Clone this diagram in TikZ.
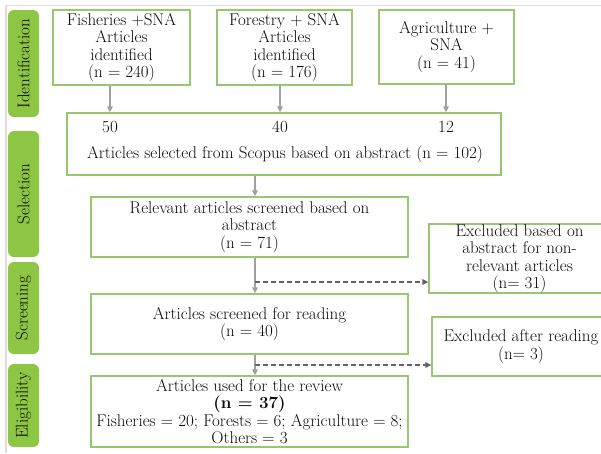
\documentclass[tikz,border=0pt]{standalone}
\usetikzlibrary{arrows.meta,calc}
\definecolor{sidegreen}{RGB}{141,198,68}
\definecolor{boxgreen}{RGB}{150,200,112}
\definecolor{arrgrey}{RGB}{160,160,160}
\definecolor{dgrey}{RGB}{100,100,100}
\definecolor{framegrey}{RGB}{222,222,215}
\definecolor{txt}{RGB}{10,10,10}
\begin{document}
\begin{tikzpicture}[x=1pt,y=-1pt,
  box/.style={draw=boxgreen, line width=1.3pt, align=center, inner sep=0pt,
    font=\fontsize{17}{17.5}\selectfont, text=txt},
  lbl/.style={inner sep=0pt, font=\fontsize{17}{17.5}\selectfont, text=txt},
  side/.style={fill=sidegreen, rounded corners=6pt, inner sep=0pt, rotate=90,
    minimum height=31pt, font=\fontsize{17}{17}\selectfont, text=txt},
  arr/.style={draw=arrgrey, line width=1.5pt, -{Triangle[length=6pt,width=5.5pt]}},
  darr/.style={draw=dgrey, line width=1.6pt, dash pattern=on 5pt off 3pt,
    -{Triangle[length=6pt,width=5.5pt]}}]
\useasboundingbox (0,0) rectangle (601,453);
\clip (0,0) rectangle (601,453);
% frame
\draw[framegrey, line width=1.5pt] (6,453) -- (6,5.5) -- (601,5.5);
% side labels
\node[side, minimum width=107pt] (sid) at (23.5,63.5) {Identification};
\node[side, minimum width=126pt] (ssel) at (23.5,194) {Selection};
\node[side, minimum width=92pt] (sscr) at (23.5,308) {Screening};
\node[side, minimum width=83pt] (selig) at (23.5,405.5) {Eligibility};
% top boxes
\node[box, minimum width=137pt, minimum height=75pt] (fish) at (121.5,47.5)
  {Fisheries +SNA\\Articles\\identified\\(n = 240)};
\node[box, minimum width=135pt, minimum height=75pt] (forest) at (284.5,47.5)
  {Forestry + SNA\\Articles\\identified\\(n = 176)};
\node[box, minimum width=135pt, minimum height=74pt] (agri) at (446.5,47)
  {Agriculture +\\SNA\\(n = 41)};
% scopus box
\node[box, minimum width=434pt, minimum height=62pt] (scop) at (284,144) {};
\node[lbl] (n50) at (110,127) {50};
\node[lbl] (n40) at (280,127) {40};
\node[lbl] (n12) at (446,127) {12};
\node[lbl] (scoptxt) at (285,154.5) {Articles selected from Scopus based on abstract (n = 102)};
% middle boxes
\node[box, minimum width=317pt, minimum height=60pt] (rel) at (249.5,227)
  {Relevant articles screened based on\\abstract\\(n = 71)};
\node[box, minimum width=181pt, minimum height=69pt] (exa) at (519.5,258.5)
  {Excluded based on\\abstract for non-\\relevant articles\\(n= 31)};
\node[box, minimum width=317pt, minimum height=60pt] (scr) at (249.5,324)
  {Articles screened for reading\\(n = 40)};
\node[box, minimum width=178pt, minimum height=59pt] (exr) at (521,346.5)
  {Excluded after reading\\(n= 3)};
\node[box, minimum width=317pt, minimum height=71pt] (used) at (249.5,411.5)
  {Articles used for the review\\\textbf{(n = 37)}\\Fisheries = 20; Forests = 6; Agriculture = 8;\\Others = 3};
% connectors
\coordinate (j1) at (255,282);
\coordinate (j2) at (255,365);
\draw[arr] (fish.south -| n50) -- (scop.north -| n50);
\draw[arr] (forest.south -| n40) -- (scop.north -| n40);
\draw[arr] (agri.south -| n12) -- (scop.north -| n12);
\draw[arr] (scop.south -| j1) -- (rel.north -| j1);
\draw[arr] (rel.south -| j1) -- (scr.north -| j1);
\draw[arr] (scr.south -| j2) -- (used.north -| j2);
\draw[darr] (j1) -- (exa.west |- j1);
\draw[darr] (j2) -- (exr.west |- j2);
\end{tikzpicture}
\end{document}
